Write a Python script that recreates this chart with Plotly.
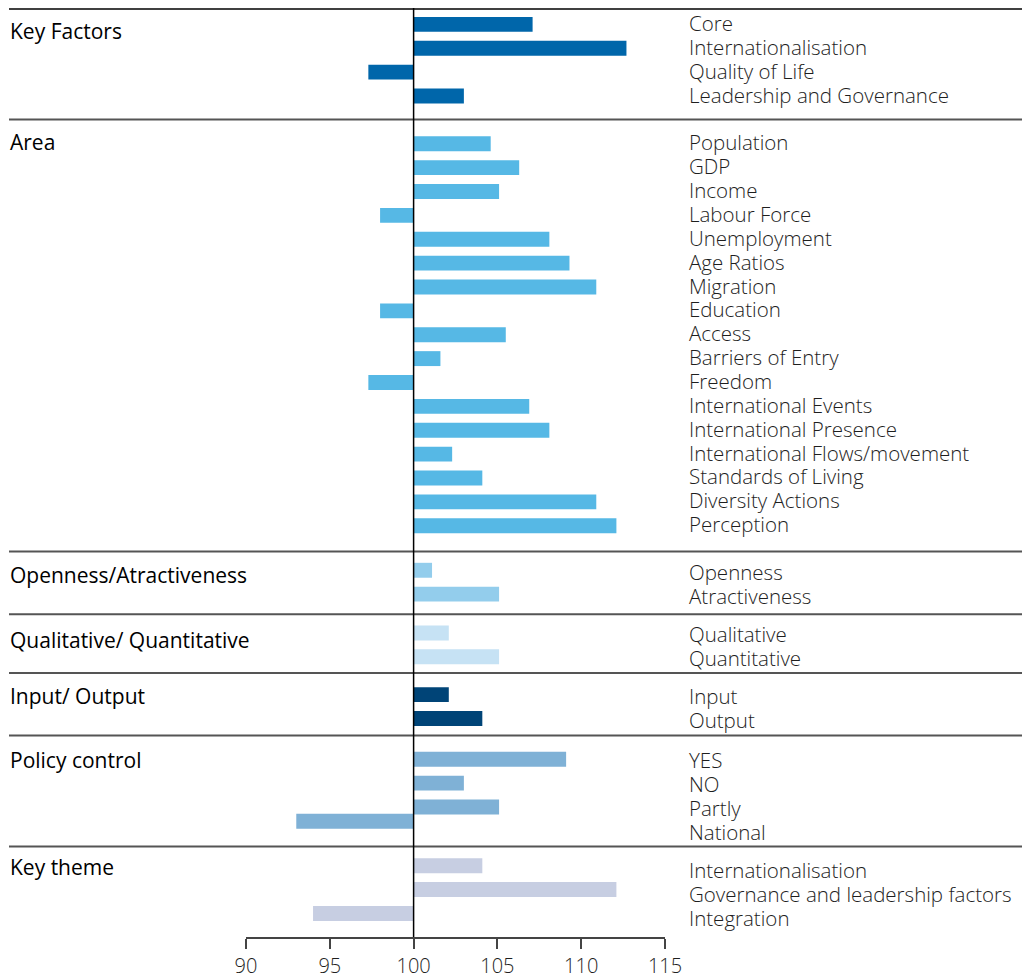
import plotly.graph_objects as go

# ---------------- data ----------------
groups = ["Key Factors", "Area", "Openness/Atractiveness", "Qualitative/ Quantitative",
          "Input/ Output", "Policy control", "Key theme"]

key_factors = ["Core", "Internationalisation", "Quality of Life", "Leadership and Governance"]
key_factors_vals = [107.1, 112.7, 97.3, 103.0]

area = ["Population", "GDP", "Income", "Labour Force", "Unemployment", "Age Ratios", "Migration",
        "Education", "Access", "Barriers of Entry", "Freedom", "International Events",
        "International Presence", "International Flows/movement", "Standards of Living",
        "Diversity Actions", "Perception"]
area_vals = [104.6, 106.3, 105.1, 98.0, 108.1, 109.3, 110.9, 98.0, 105.5, 101.6, 97.3,
             106.9, 108.1, 102.3, 104.1, 110.9, 112.1]

openness = ["Openness", "Atractiveness"]
openness_vals = [101.1, 105.1]

qualitative = ["Qualitative", "Quantitative"]
qualitative_vals = [102.1, 105.1]

input_output = ["Input", "Output"]
input_output_vals = [102.1, 104.1]

policy = ["YES", "NO", "Partly", "National"]
policy_vals = [109.1, 103.0, 105.1, 93.0]

key_theme = ["Internationalisation", "Governance and leadership factors", "Integration"]
key_theme_vals = [104.1, 112.1, 94.0]

x_ticks = [90, 95, 100, 105, 110, 115]

# ---------------- style / layout ----------------
colors = ["#0066AA", "#56B8E5", "#93CDEC", "#C6E2F4", "#004477", "#7FB1D6", "#C7CEE2"]
cats_by_group = [key_factors, area, openness, qualitative, input_output, policy, key_theme]
vals_by_group = [key_factors_vals, area_vals, openness_vals, qualitative_vals,
                 input_output_vals, policy_vals, key_theme_vals]

PAGE_OFF = 8                  # default body margin of the html page
W, H = 1030 - PAGE_OFF, 979 - PAGE_OFF
PL, PR = 246, 665             # plot area x (page pixels)
AXIS_Y = 942                  # axis line (page pixels)
STEP = 24
label_start = [23, 143, 575, 637, 700, 764, 875]
bar_start = [24.5, 144.5, 573.3, 636.3, 698.3, 763.3, 870.3]
group_label_shift = [8, 0, 3, 6, 0, 0, -3]
separators = [120, 554.3, 617.5, 676.5, 739.5, 851]
bar_slot_override = {(5, 3): 2.6}

def px_to_paper_x(px):
    return (px - PL) / (PR - PL)

fig = go.Figure()
annotations = []
LABEL_FONT = dict(family="Open Sans, Noto Sans, sans-serif", size=20.5, color="#1e1e1e", weight=300)
GROUP_FONT = dict(family="Open Sans, Noto Sans, sans-serif", size=21, color="#000000")

for gi, (g, cats, vals, col) in enumerate(zip(groups, cats_by_group, vals_by_group, colors)):
    ys = []
    for i in range(len(cats)):
        slot = bar_slot_override.get((gi, i), i)
        ys.append(bar_start[gi] + slot * STEP)
    fig.add_trace(go.Bar(
        y=ys, x=[v - 100 for v in vals], base=100, orientation="h",
        width=15, marker=dict(color=col, line=dict(width=0)),
        name=g, customdata=vals, text=cats,
        hovertemplate="%{text}: %{customdata}<extra></extra>", textposition="none",
    ))
    for i, c in enumerate(cats):
        annotations.append(dict(
            x=px_to_paper_x(687), xref="paper", xanchor="left",
            y=label_start[gi] + i * STEP, yref="y", yanchor="middle",
            text=c, showarrow=False, font=LABEL_FONT))
    annotations.append(dict(
        x=px_to_paper_x(8), xref="paper", xanchor="left",
        y=label_start[gi] + group_label_shift[gi], yref="y", yanchor="middle",
        text=g, showarrow=False, font=GROUP_FONT))

plot_h = AXIS_Y - PAGE_OFF
shapes = [dict(type="line", xref="paper", yref="paper", x0=px_to_paper_x(9), x1=px_to_paper_x(1027),
               y0=1 - 1.0 / plot_h, y1=1 - 1.0 / plot_h, line=dict(color="#000000", width=1.5))]
for s in separators:
    shapes.append(dict(type="line", xref="paper", yref="y", x0=px_to_paper_x(9),
                       x1=px_to_paper_x(1027), y0=s, y1=s, line=dict(color="#555555", width=2)))
shapes.append(dict(type="line", xref="x", yref="y", x0=100, x1=100, y0=PAGE_OFF, y1=AXIS_Y,
                   line=dict(color="#000000", width=1.5)))

fig.update_layout(
    width=W, height=H,
    margin=dict(l=PL - PAGE_OFF, r=W - (PR - PAGE_OFF), t=0, b=H - (AXIS_Y - PAGE_OFF), pad=0),
    paper_bgcolor="white", plot_bgcolor="white",
    showlegend=False, barmode="overlay",
    xaxis=dict(range=[90, 115], tickvals=x_ticks, ticktext=[str(t) for t in x_ticks],
               showgrid=False, zeroline=False, showline=True, linecolor="#444444", linewidth=1.5,
               ticks="outside", ticklen=10, tickwidth=1.5, tickcolor="#444444",
               tickfont=dict(family="Open Sans, Noto Sans, sans-serif", size=20, color="#1e1e1e",
                             weight=300),
               fixedrange=True),
    yaxis=dict(range=[AXIS_Y, PAGE_OFF], showgrid=False, zeroline=False, showline=False,
               showticklabels=False, ticks="", fixedrange=True),
    annotations=annotations, shapes=shapes,
)

fig.write_html("out.html")
